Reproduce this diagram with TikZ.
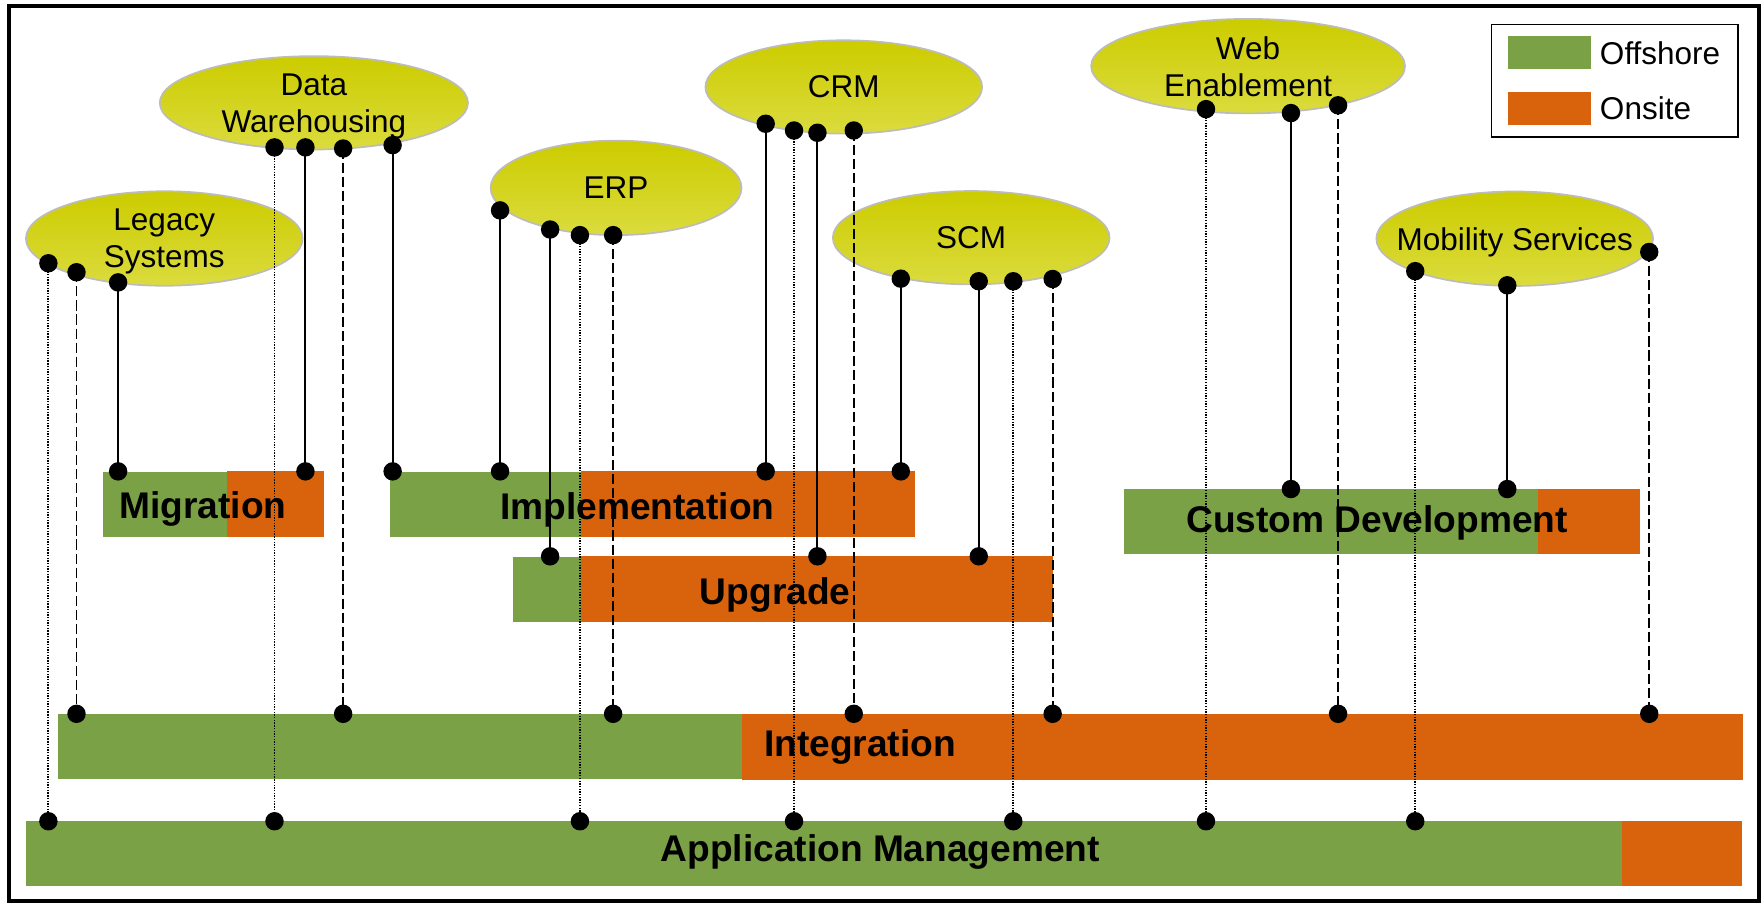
\documentclass[tikz,border=0pt]{standalone}
\usepackage{fontspec}
\setmainfont{Liberation Sans}
\usetikzlibrary{shapes.geometric}

\definecolor{offshore}{RGB}{122,161,69}
\definecolor{onsite}{RGB}{217,98,12}
\definecolor{bubbletop}{RGB}{204,204,0}
\definecolor{bubblebottom}{RGB}{219,219,62}
\definecolor{bubbleedge}{RGB}{188,188,188}

% connector: style, x, y of the upper pin, target bar, name of the upper pin
\newcommand\tielink[5]{%
  \coordinate (#5) at (#2,#3);
  \draw[#1] (#5) -- (#5 |- #4.north);
  \fill (#5) circle (8.2pt);
  \fill (#5 |- #4.north) circle (8.2pt);
}

\begin{document}
\begin{tikzpicture}[x=1pt,y=-1pt,
  bubble/.style={ellipse, draw=bubbleedge, line width=1.5pt,
    top color=bubbletop, bottom color=bubblebottom, inner sep=0pt},
  bubbletext/.style={inner sep=0pt, align=center, text depth=0pt,
    font=\fontsize{28}{33}\selectfont},
  bar/.style={rectangle, fill=offshore, inner sep=0pt, anchor=north west},
  bartext/.style={inner sep=0pt, anchor=base, font=\fontsize{33}{38}\selectfont\bfseries},
  swatch/.style={rectangle, inner sep=0pt, minimum width=74pt, minimum height=29pt, anchor=north west},
  legtext/.style={inner sep=0pt, anchor=base west, font=\fontsize{28}{32}\selectfont},
  solidlink/.style={line width=1.8pt},
  dashlink/.style={line width=1.6pt, dash pattern=on 9pt off 3.5pt},
  dotlink/.style={line width=1.6pt, dash pattern=on 1.2pt off 1.2pt}
]
\useasboundingbox (0,0) rectangle (1568,803);

% outer frame
\draw[line width=4pt] (8,5.2) rectangle (1563.5,801);

% legend
\node[draw, line width=1.4pt, inner sep=0pt, minimum width=219pt, minimum height=100pt,
      anchor=north west] (legend) at (1325,21) {};
\node[swatch, fill=offshore] (swoff) at (1340,32) {};
\node[swatch, fill=onsite] (swon) at (1340,82) {};
\node[legtext] (toff) at (1422,57) {Offshore};
\node[legtext] (ton) at (1422,106) {Onsite};

% service bars: green = offshore share, orange = onsite share
\node[bar, minimum width=197pt, minimum height=58pt] (mig) at (91,419) {};
\fill[onsite] (201.5,419) rectangle (mig.south east);
\node[bartext] (migt) at (180.5,461) {Migration};

\node[bar, minimum width=466pt, minimum height=58pt] (imp) at (346.5,419) {};
\fill[onsite] (516,419) rectangle (imp.south east);
\node[bartext] (impt) at (566.5,461.5) {Implementation};

\node[bar, minimum width=480pt, minimum height=58pt] (upg) at (455.5,494.5) {};
\fill[onsite] (516,494.5) rectangle (upg.south east);
\node[bartext] (upgt) at (689,537) {Upgrade};

\node[bar, minimum width=459pt, minimum height=57.5pt] (cus) at (998.5,434.7) {};
\fill[onsite] (1367,434.7) rectangle (cus.south east);
\node[bartext] (cust) at (1224,473.5) {Custom Development};

\node[bar, minimum width=1497pt, minimum height=58pt] (int) at (51.5,634.5) {};
\fill[onsite] (659.5,634.5) rectangle (int.south east);
\node[bartext] (intt) at (764.5,672.5) {Integration};

\node[bar, minimum width=1525pt, minimum height=57.5pt] (app) at (23,730) {};
\fill[onsite] (1442,730) rectangle (app.south east);
\node[bartext] (appt) at (782.5,766) {Application Management};

% technology areas
\node[bubble, minimum width=246pt, minimum height=84pt,
      label={[bubbletext]center:Legacy\\Systems}] (legacy) at (146,212) {};
\node[bubble, minimum width=274pt, minimum height=83pt,
      label={[bubbletext]center:Data\\Warehousing}] (dw) at (279,91.4) {};
\node[bubble, minimum width=223pt, minimum height=84pt,
      label={[bubbletext]center:ERP}] (erp) at (547.6,167) {};
\node[bubble, minimum width=246pt, minimum height=83pt,
      label={[bubbletext]center:CRM}] (crm) at (750,77.3) {};
\node[bubble, minimum width=246pt, minimum height=83pt,
      label={[bubbletext]center:SCM}] (scm) at (863.3,211.3) {};
\node[bubble, minimum width=279pt, minimum height=84pt,
      label={[bubbletext]center:Web\\Enablement}] (web) at (1109.4,58.8) {};
\node[bubble, minimum width=246pt, minimum height=84pt,
      label={[bubbletext]center:Mobility Services}] (mob) at (1346.4,212.2) {};

% Legacy Systems
\tielink{dotlink}{43}{234}{app}{ls1}
\tielink{dashlink}{68}{242}{int}{ls2}
\tielink{solidlink}{105}{251}{mig}{ls3}
% Data Warehousing
\tielink{dotlink}{244}{131}{app}{dw1}
\tielink{solidlink}{271.5}{131}{mig}{dw2}
\tielink{dashlink}{305}{132}{int}{dw3}
\tielink{solidlink}{349}{129}{imp}{dw4}
% ERP
\tielink{solidlink}{444.5}{187}{imp}{erp1}
\tielink{solidlink}{489}{204}{upg}{erp2}
\tielink{dotlink}{515.5}{209}{app}{erp3}
\tielink{dashlink}{545}{209}{int}{erp4}
% CRM
\tielink{solidlink}{680.6}{110}{imp}{crm1}
\tielink{dotlink}{705.8}{116}{app}{crm2}
\tielink{solidlink}{726.6}{118}{upg}{crm3}
\tielink{dashlink}{758.9}{116}{int}{crm4}
% SCM
\tielink{solidlink}{800.7}{247.7}{imp}{scm1}
\tielink{solidlink}{870}{250}{upg}{scm2}
\tielink{dotlink}{900.7}{250}{app}{scm3}
\tielink{dashlink}{935.7}{248}{int}{scm4}
% Web Enablement
\tielink{dotlink}{1072}{97}{app}{web1}
\tielink{solidlink}{1147.5}{100.5}{cus}{web2}
\tielink{dashlink}{1189.4}{93.6}{int}{web3}
% Mobility Services
\tielink{dotlink}{1258}{241}{app}{mob1}
\tielink{solidlink}{1339.8}{253.6}{cus}{mob2}
\tielink{dashlink}{1466}{224}{int}{mob3}

\end{tikzpicture}
\end{document}
